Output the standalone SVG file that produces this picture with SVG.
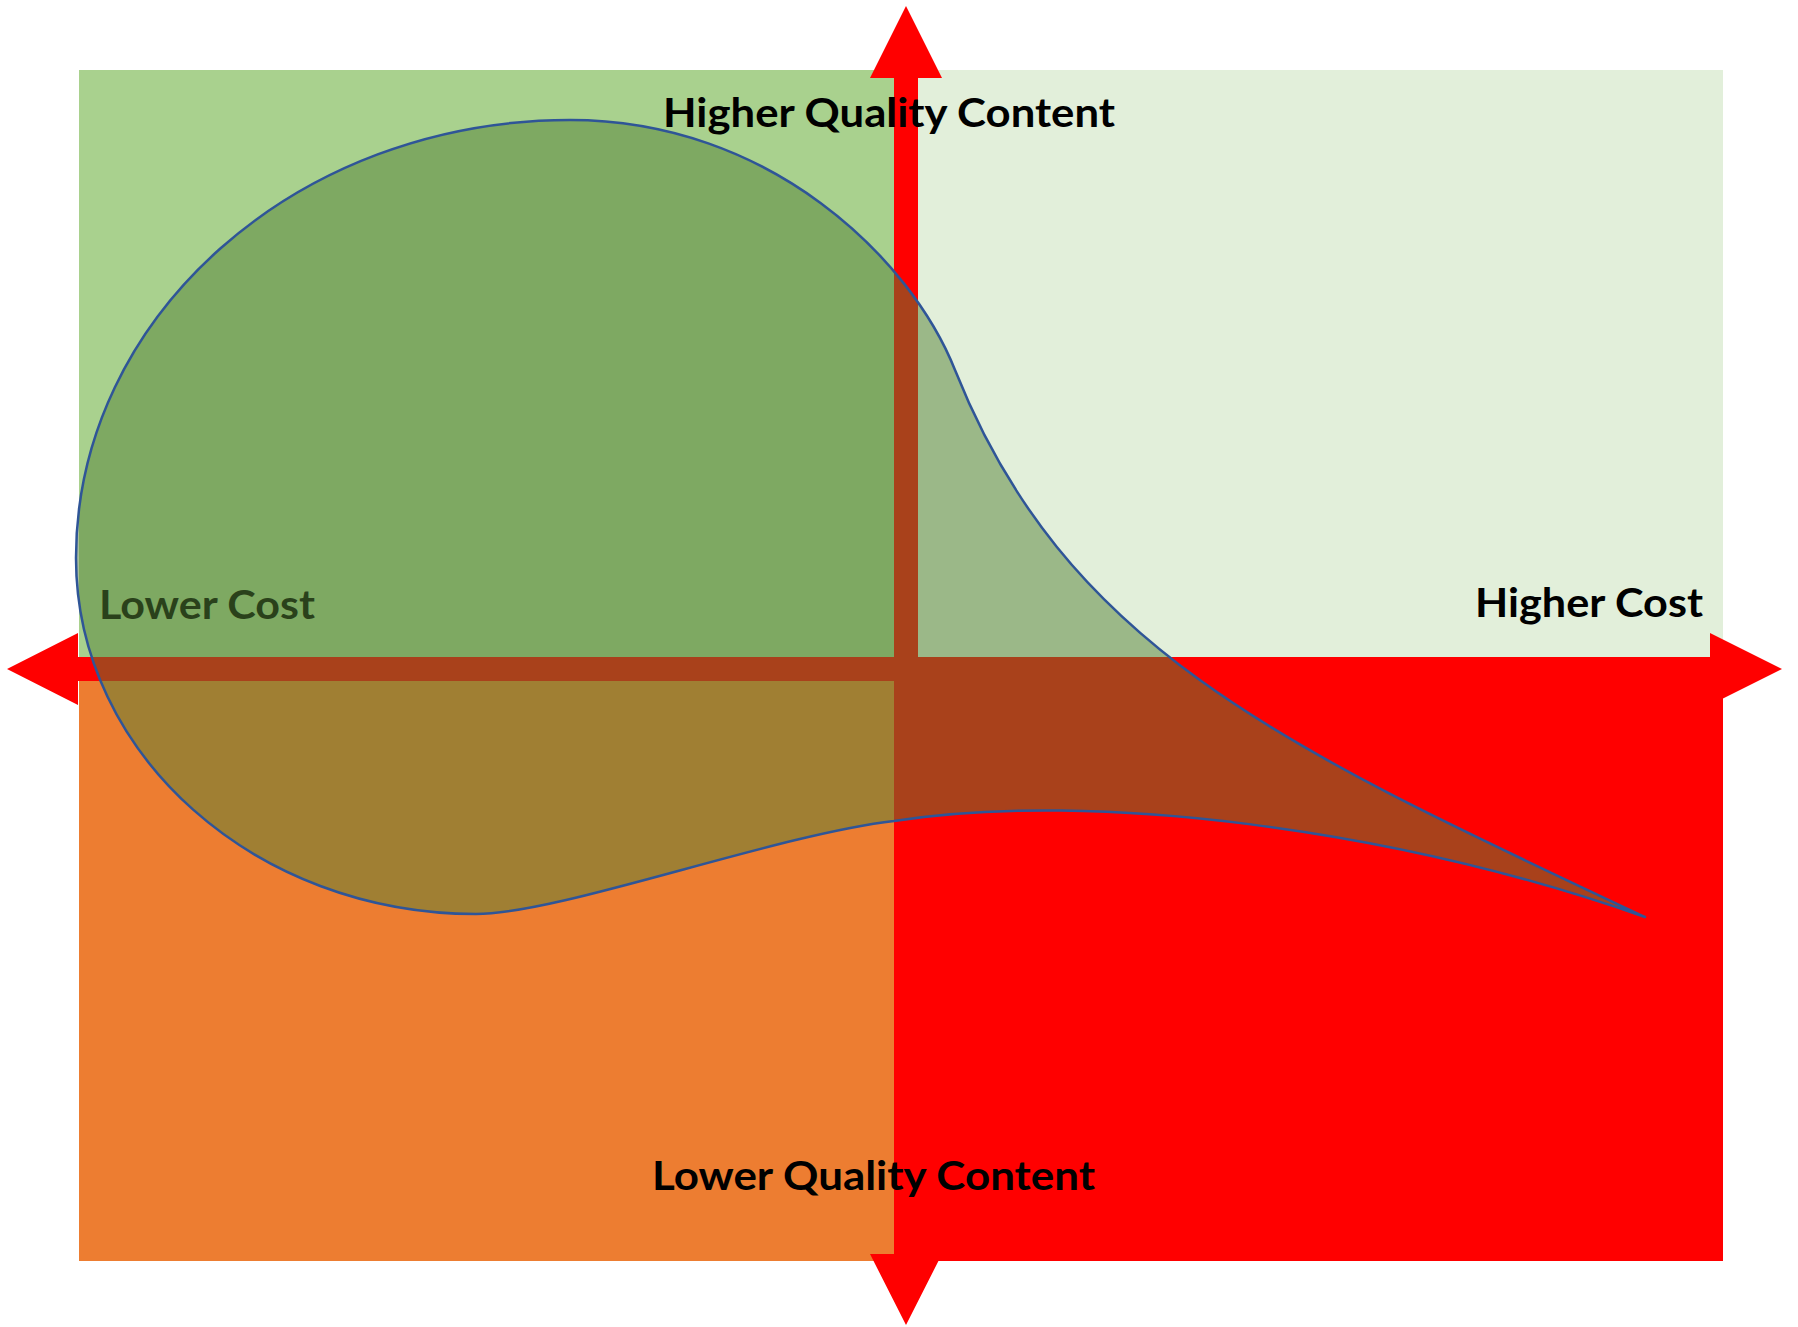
<svg xmlns="http://www.w3.org/2000/svg" width="1798" height="1327" viewBox="0 0 1798 1327">
<style>
.lbl{font-family:Lato,"Open Sans","Liberation Sans",sans-serif;font-weight:700;font-size:40px;fill:#000}
.arrow{fill:#FF0000}
.blob{fill:#548235;fill-opacity:0.5;stroke:#2F5597;stroke-width:2.5;stroke-linejoin:round}
</style>
<rect width="1798" height="1327" fill="#fff"/>
<g id="quadrant-top-left"><rect x="79" y="70" width="815" height="587" fill="#A9D18E"/></g>
<g id="quadrant-top-right"><rect x="918" y="70" width="805" height="587" fill="#E2EFDA"/></g>
<g id="quadrant-bottom-left"><rect x="79" y="681" width="815" height="580" fill="#ED7D31"/></g>
<g id="quadrant-bottom-right"><rect x="894" y="657" width="829" height="604" fill="#FF0000"/></g>
<g id="connectors">
<polygon class="arrow" points="906,6 942,78 918,78 918,1254 942,1254 906,1325 870,1254 894,1254 894,78 870,78"/>
<polygon class="arrow" points="7,669 78,633 78,657 1710,657 1710,633 1782,669 1710,705 1710,681 78,681 78,705"/>
</g>
<g id="label-higher-quality"><text class="lbl" x="663" y="127" textLength="452" lengthAdjust="spacingAndGlyphs">Higher Quality Content</text></g>
<g id="label-lower-quality"><text class="lbl" x="652" y="1190" textLength="443" lengthAdjust="spacingAndGlyphs">Lower Quality Content</text></g>
<g id="label-lower-cost"><text class="lbl" x="99" y="619" textLength="216" lengthAdjust="spacingAndGlyphs">Lower Cost</text></g>
<g id="label-higher-cost"><text class="lbl" x="1475" y="617" textLength="228" lengthAdjust="spacingAndGlyphs">Higher Cost</text></g>
<g id="teardrop">
<path class="blob" d="M1645,917 C1283,747 1066,649 955,370 C910.6,258.4 770,120 570,120 C297,120 76,316 76,558 C76,754.5 255,914 476,914 C560,914 774,835 894,821 C1094,790 1395,829 1645,917 Z"/>
</g>
</svg>
